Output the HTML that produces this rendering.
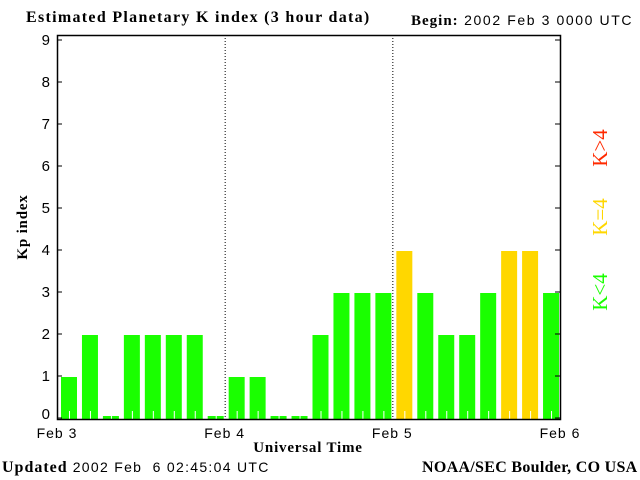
<!DOCTYPE html>
<html><head><meta charset="utf-8"><style>
body{margin:0;background:#fff;width:640px;height:480px;overflow:hidden;position:relative;font-family:"Liberation Sans",sans-serif}
.t{position:absolute;white-space:nowrap}
.serif{font-family:"Liberation Serif",serif;font-weight:bold}
</style></head><body>
<div class="t serif" style="left:26px;top:9px;font-size:16px;letter-spacing:1.3px">Estimated Planetary K index (3 hour data)</div>
<div class="t" style="left:411px;top:12px;font-size:14px;letter-spacing:1.6px"><span class="serif" style="font-size:15px;letter-spacing:1px">Begin:</span> 2002 Feb 3 0000 UTC</div>
<div class="t serif" style="left:2px;top:459px;font-size:16px;letter-spacing:1px">Updated <span style="font-family:'Liberation Sans',sans-serif;font-weight:normal;font-size:14px;letter-spacing:1.3px">2002 Feb &nbsp;6 02:45:04 UTC</span></div>
<div class="t serif" style="left:422px;top:459px;font-size:16px;letter-spacing:0.3px">NOAA/SEC Boulder, CO USA</div>
<svg id="c" width="640" height="480" style="position:absolute;left:0;top:0"></svg>
<script>
const values=[1,2,0,2,2,2,2,0,1,1,0,0,2,3,3,3,4,3,2,2,3,4,4,3];
const yTicks=[0,1,2,3,4,5,6,7,8,9];
const dayLabels=["Feb 3","Feb 4","Feb 5","Feb 6"];
const L=57,R=560,T=35,B=419;
const NS="http://www.w3.org/2000/svg";
const svg=document.getElementById('c');
function x(i){return L+(R-L)*i/24;}
function y(v){return 418-42*v;}
function mk(t,a){const e=document.createElementNS(NS,t);for(const k in a)e.setAttribute(k,a[k]);svg.appendChild(e);return e;}
values.forEach((v,i)=>{
  const col=v>4?'#ff2a00':(v==4?'#ffd700':'#1aff00');
  const h=v==0?3:42*v;
  const r=mk('rect',{x:x(i)+4,y:B-h,width:16,height:h,fill:col});
  
  
  const w=mk('line',{x1:x(i)+12.5,x2:x(i)+12.5,y1:B-8,y2:B,stroke:'#fff','stroke-width':1});
  
  
});
[8,16].forEach(i=>{const d=mk('line',{x1:x(i)+0.5,x2:x(i)+0.5,y1:T,y2:B,stroke:'#000','stroke-dasharray':'1,2'});
});
const fr=mk('rect',{x:L+0.5,y:T+0.5,width:R-L,height:B-T,fill:'none',stroke:'#000','stroke-width':1.5});

yTicks.forEach(v=>{
  mk('line',{x1:L,x2:L+5,y1:y(v),y2:y(v),stroke:'#000'});
  mk('line',{x1:R-5,x2:R,y1:y(v),y2:y(v),stroke:'#000'});
  const t=mk('text',{x:50,y:y(v)+(v==0?1:5),'text-anchor':'end','font-size':15,'font-family':'Liberation Sans,sans-serif'});
  t.textContent=v;
});
dayLabels.forEach((d,i)=>{
  const t=mk('text',{x:x(i*8),y:438,'text-anchor':'middle','font-size':14,'letter-spacing':1,'font-family':'Liberation Sans,sans-serif'});
  t.textContent=d;
});
let t=mk('text',{x:308,y:452,'text-anchor':'middle','font-size':15,'letter-spacing':0.8,'font-weight':'bold','font-family':'Liberation Serif,serif'});
t.textContent='Universal Time';
t=mk('text',{x:0,y:0,'text-anchor':'middle','font-size':15,'letter-spacing':0.8,'font-weight':'bold','font-family':'Liberation Serif,serif',transform:'translate(27,227) rotate(-90)'});
t.textContent='Kp index';
[['K>4','#ff2a00',148],['K=4','#ffd700',217],['K<4','#1aff00',292]].forEach(l=>{
  const e=mk('text',{x:0,y:0,'text-anchor':'middle','font-size':21,'font-family':'Liberation Serif,serif',fill:l[1],transform:'translate(607,'+l[2]+') rotate(-90)'});
  e.textContent=l[0];
});
</script>
</body></html>
